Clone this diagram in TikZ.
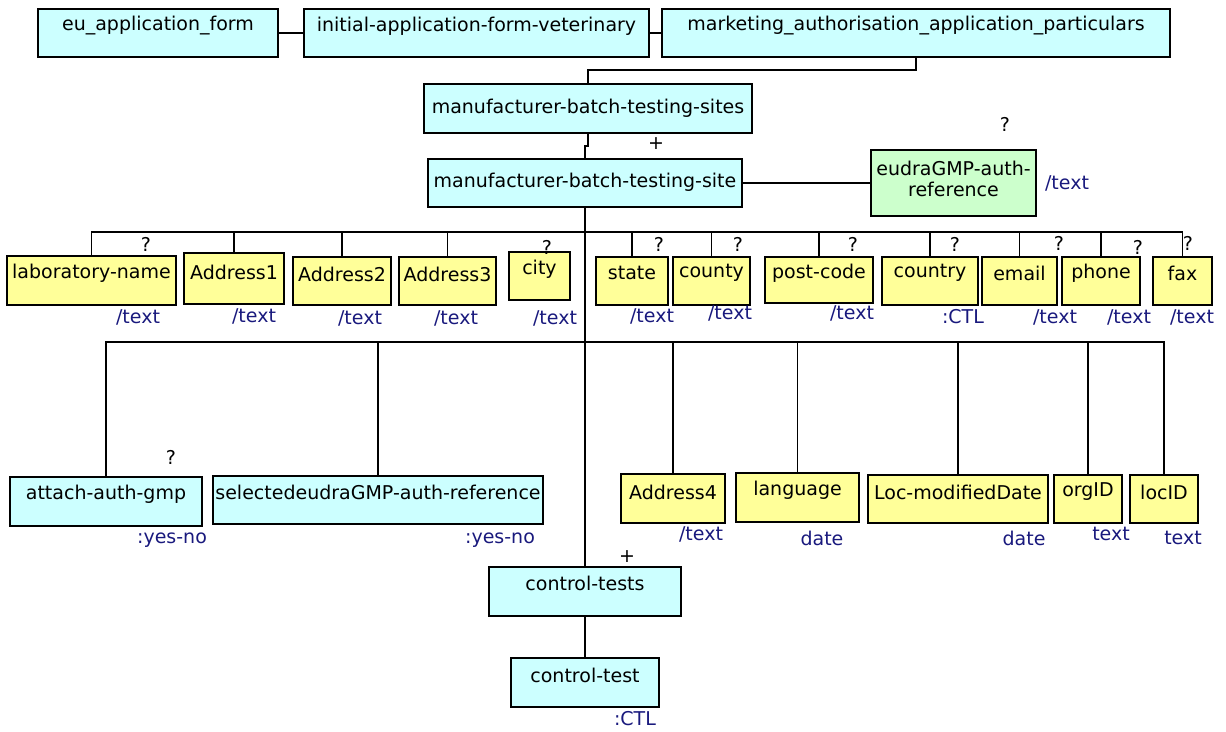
\documentclass[tikz,border=0pt]{standalone}
\usepackage{fontspec}
\setmainfont{DejaVu Sans}
\definecolor{cy}{HTML}{CCFFFF}
\definecolor{yl}{HTML}{FFFF99}
\definecolor{gr}{HTML}{CCFFCC}
\definecolor{nv}{RGB}{25,25,125}
\tikzset{
  bxs/.style={draw=black, line width=1.4pt, inner sep=0pt, outer sep=0pt},
  cyb/.style={bxs, fill=cy},
  ylb/.style={bxs, fill=yl},
  grb/.style={bxs, fill=gr},
  txt/.style={font=\fontsize{19}{21.5}\selectfont, inner sep=0pt, align=center},
  typ/.style={txt, text=nv},
  conn/.style={line width=1.5pt},
  trunk/.style={line width=2.8pt},
}
\newcommand\bx[8]{%
  \node[#6, minimum width={(#4-#2)*1pt}, minimum height={(#5-#3)*1pt}] (#1) at ({(#2+#4)/2},{(#3+#5)/2}) {};
  \node[txt] (#1-t) at ({(#2+#4)/2},{#3+#7}) {#8};}
\newcommand\lb[5]{\node[#2] (#1) at (#3,#4) {#5};}
\begin{document}
\begin{tikzpicture}[x=1pt,y=-1pt]
\useasboundingbox (0,0) rectangle (1226,731);
% row 1
\bx{eu}{38}{9}{278}{57}{cyb}{17}{eu\_application\_form}
\bx{init}{304}{9}{649}{57}{cyb}{17}{initial-application-form-veterinary}
\bx{mkt}{662}{9}{1170}{57}{cyb}{17}{marketing\_authorisation\_application\_particulars}
\bx{sites}{424}{84}{752}{133}{cyb}{24}{manufacturer-batch-testing-sites}
\bx{site}{428}{159}{742}{207}{cyb}{23}{manufacturer-batch-testing-site}
\node[grb, minimum width=165pt, minimum height=66pt] (eudra) at (953.5,183) {};
\node[txt] (eudra-t) at (953.5,179) {eudraGMP-auth-\\reference};
% yellow row
\bx{lab}{7}{256}{176}{305}{ylb}{17}{laboratory-name}
\bx{a1}{184}{253}{284}{304}{ylb}{19}{Address1}
\bx{a2}{293}{257}{391}{305}{ylb}{17}{Address2}
\bx{a3}{399}{257}{496}{305}{ylb}{17}{Address3}
\bx{city}{509}{252}{570}{300}{ylb}{17}{city}
\bx{state}{596}{257}{668}{305}{ylb}{16}{state}
\bx{county}{673}{257}{750}{305}{ylb}{16}{county}
\bx{pc}{765}{257}{873}{303}{ylb}{16}{post-code}
\bx{country}{882}{257}{978}{305}{ylb}{16}{country}
\bx{email}{982}{257}{1057}{305}{ylb}{16}{email}
\bx{phone}{1062}{257}{1140}{305}{ylb}{16}{phone}
\bx{fax}{1153}{257}{1212}{305}{ylb}{16}{fax}
% lower row
\bx{attach}{10}{477}{202}{526}{cyb}{17}{attach-auth-gmp}
\bx{sel}{213}{476}{543}{524}{cyb}{16}{selectedeudraGMP-auth-reference}
\bx{a4}{621}{474}{725}{523}{ylb}{18}{Address4}
\bx{lang}{736}{473}{859}{522}{ylb}{17}{language}
\bx{loc}{868}{475}{1048}{523}{ylb}{17}{Loc-modifiedDate}
\bx{org}{1054}{475}{1122}{523}{ylb}{17}{orgID}
\bx{loci}{1130}{475}{1198}{523}{ylb}{17}{locID}
\bx{ctests}{489}{567}{681}{616}{cyb}{16}{control-tests}
\bx{ctest}{511}{658}{659}{707}{cyb}{17}{control-test}
% connectors
\coordinate (b1) at (585,232);
\coordinate (b2) at (585,342);
\draw[conn] (eu.east) -- (init.west);
\draw[conn] (init.east) -- (mkt.west);
\draw[conn] (mkt.south) -- ++(0,13) -| (sites.north);
\draw[conn] (sites.south) -- ++(0,13) -| (site.north);
\draw[conn] (site.east) -- (eudra.west);
\draw[trunk] (site.south) -- (b2);
\foreach \c in {lab,a1,a2,a3,state,county,pc,country,email,phone,fax}
  \draw[conn] (site.south) -- (b1) -| (\c.north);
\foreach \c in {attach,sel,a4,lang,loc,org,loci}
  \draw[conn] (site.south) -- (b2) -| (\c.north);
\draw[conn] (site.south) -- (ctests.north);
\draw[conn] (ctests.south) -- (ctest.north);
% cardinalities
\lb{q1}{txt}{1005}{124}{?}
\lb{q2}{txt}{146}{244}{?}
\lb{q3}{txt}{547}{247}{?}
\lb{q4}{txt}{659}{244}{?}
\lb{q5}{txt}{738}{244}{?}
\lb{q6}{txt}{853}{244}{?}
\lb{q7}{txt}{955}{244}{?}
\lb{q8}{txt}{1059}{243}{?}
\lb{q9}{txt}{1138}{247}{?}
\lb{q10}{txt}{1188}{243}{?}
\lb{q11}{txt}{171}{457}{?}
\lb{p1}{txt}{656}{144}{+}
\lb{p2}{txt}{627}{557}{+}
% types
\lb{t1}{typ}{1067}{183}{/text}
\lb{t2}{typ}{138}{317}{/text}
\lb{t3}{typ}{254}{316}{/text}
\lb{t4}{typ}{360}{318}{/text}
\lb{t5}{typ}{456}{318}{/text}
\lb{t6}{typ}{555}{318}{/text}
\lb{t7}{typ}{652}{316}{/text}
\lb{t8}{typ}{730}{313}{/text}
\lb{t9}{typ}{852}{313}{/text}
\lb{t10}{typ}{963}{317}{:CTL}
\lb{t11}{typ}{1055}{317}{/text}
\lb{t12}{typ}{1129}{317}{/text}
\lb{t13}{typ}{1192}{317}{/text}
\lb{t14}{typ}{172}{540}{:yes-no}
\lb{t15}{typ}{500}{540}{:yes-no}
\lb{t16}{typ}{701}{534}{/text}
\lb{t17}{typ}{822}{538}{date}
\lb{t18}{typ}{1024}{538}{date}
\lb{t19}{typ}{1111}{534}{text}
\lb{t20}{typ}{1183}{538}{text}
\lb{t21}{typ}{635}{719}{:CTL}
\end{tikzpicture}
\end{document}
